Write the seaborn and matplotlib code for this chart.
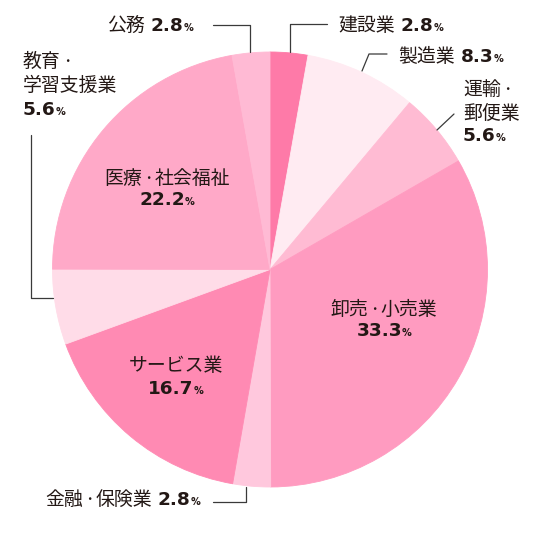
import matplotlib

matplotlib.use("Agg")
import matplotlib.pyplot as plt
import seaborn as sns

# share of employment by industry (%), clockwise from 12 o'clock
industries = ["建設業", "製造業", "運輸・郵便業", "卸売・小売業", "金融・保険業",
              "サービス業", "教育・学習支援業", "医療・社会福祉", "公務"]
shares = [2.8, 8.3, 5.6, 33.3, 2.8, 16.7, 5.6, 22.2, 2.8]
slice_colors = ["#fe7aa8", "#ffebf2", "#ffbbd3", "#ff9bc0", "#ffc8dd",
                "#ff8ab3", "#ffdce8", "#ffa9c8", "#ffbad4"]
# how each name is broken over lines in the labels
label_names = {
    "運輸・郵便業": ["運輸・", "郵便業"],
    "教育・学習支援業": ["教育・", "学習支援業"],
}

W = H = 540
INK = "#231815"
sns.set_theme(style="white")
plt.rcParams["font.family"] = ["Noto Sans CJK JP", "DejaVu Sans"]

NAME_PT = 13.6
DOT_PT = 9.0
NAME = dict(family=["Noto Sans CJK JP", "DejaVu Sans"], size=NAME_PT, color=INK)
DOT = dict(family=["Noto Sans CJK JP", "DejaVu Sans"], size=DOT_PT, color=INK)
NUM = dict(family="DejaVu Sans", weight="bold", size=13.3, color=INK)
PCT = dict(family="DejaVu Sans", weight="bold", size=7, color=INK)
# the narrower "・" sits on the centre line of the full-size glyphs
DOT_RAISE = 0.38 * (NAME_PT - DOT_PT) * 100 / 72

# label placement in pixels from the top-left: (x, baseline y, align)
label_pos = {
    "建設業": [(338, 31, "left")],
    "製造業": [(398, 62, "left")],
    "運輸・郵便業": [(463, 95, "left"), (463, 119, "left"), (463, 141, "left")],
    "卸売・小売業": [(384, 315, "center"), (384, 336, "center")],
    "金融・保険業": [(45, 505, "left")],
    "サービス業": [(176, 371, "center"), (176, 394, "center")],
    "教育・学習支援業": [(23, 67, "left"), (23, 91, "left"), (23, 115, "left")],
    "医療・社会福祉": [(167, 184, "center"), (167, 205, "center")],
    "公務": [(107, 31, "left")],
}
leaders = {
    "公務": [(213, 24.5), (249.5, 24.5), (249.5, 52)],
    "建設業": [(290, 52), (290, 23.5), (327, 23.5)],
    "製造業": [(362, 71), (369, 54), (387, 54)],
    "運輸・郵便業": [(437, 130), (454, 114)],
    "教育・学習支援業": [(31, 135), (31, 298), (53, 298)],
    "金融・保険業": [(213, 501.5), (245.5, 501.5), (245.5, 487)],
}


def name_pieces(line):
    pieces = []
    for i, part in enumerate(line.split("・")):
        if i > 0:
            pieces.append(("・", DOT, 0, DOT_RAISE))
        if part:
            pieces.append((part, NAME, 0, 0))
    return pieces


def draw_row(ax, renderer, x, y, pieces, align):
    texts = []
    cursor = x
    for s, style, gap, dy in pieces:
        cursor += gap
        t = ax.text(cursor, H - y + dy, s, ha="left", va="baseline", **style)
        cursor += t.get_window_extent(renderer).width
        texts.append(t)
    if align == "center":
        shift = (cursor - x) / 2
        for t in texts:
            px, py = t.get_position()
            t.set_position((px - shift, py))


def main() -> None:
    fig = plt.figure(figsize=(W / 100, H / 100), dpi=100)
    ax = fig.add_axes([0, 0, 1, 1])
    palette = sns.color_palette(slice_colors)
    wedges, _ = ax.pie(shares, colors=palette, startangle=90, counterclock=False,
                       radius=217.5, center=(270, H - 269.5),
                       wedgeprops=dict(linewidth=0.6))
    for w in wedges:
        w.set_edgecolor(w.get_facecolor())
    ax.set_xlim(0, W)
    ax.set_ylim(0, H)
    ax.set_axis_off()

    renderer = fig.canvas.get_renderer()
    for name, value in zip(industries, shares):
        number = (f"{value:.1f}", NUM, 0, 0)
        percent = ("%", PCT, 0, 0)
        rows = label_pos[name]
        lines = label_names.get(name, [name])
        if len(rows) == 1:
            x, y, align = rows[0]
            draw_row(ax, renderer, x, y,
                     name_pieces(lines[0]) + [(number[0], NUM, 6, 0), percent], align)
        else:
            for (x, y, align), line in zip(rows[:-1], lines):
                draw_row(ax, renderer, x, y, name_pieces(line), align)
            x, y, align = rows[-1]
            draw_row(ax, renderer, x, y, [number, percent], align)

    for pts in leaders.values():
        ax.plot([p[0] for p in pts], [H - p[1] for p in pts], color="#3a3a3a", lw=0.9)

    fig.savefig("out.png", dpi=100)
    plt.close(fig)


if __name__ == "__main__":
    main()
